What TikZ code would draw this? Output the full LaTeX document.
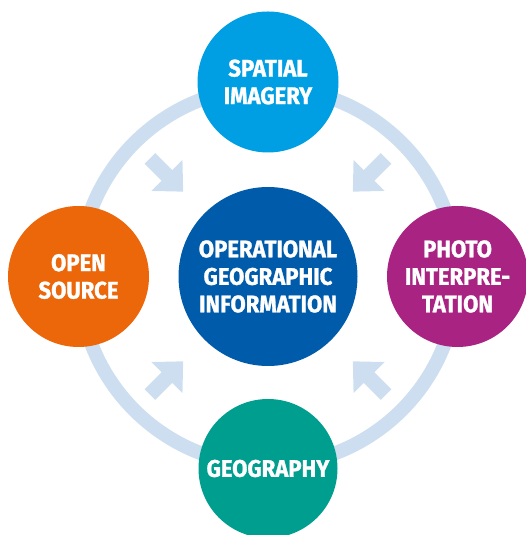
\documentclass[tikz,border=0pt]{standalone}
\usepackage{fontspec}
\setmainfont{Fira Sans}[FakeStretch=0.92, BoldFeatures={FakeBold=1.2}]
\definecolor{ringblue}{RGB}{204,222,239}
\definecolor{cyanc}{RGB}{0,159,227}
\definecolor{darkc}{RGB}{0,91,170}
\definecolor{orangec}{RGB}{236,102,10}
\definecolor{magentac}{RGB}{168,35,130}
\definecolor{tealc}{RGB}{0,158,143}
\begin{document}
\begin{tikzpicture}[x=1pt,y=1pt,
  bubble/.style={circle, inner sep=0pt, text=white, align=center,
    font=\bfseries\fontsize{24}{27.5}\selectfont},
  flowarrow/.style={fill=ringblue}]
\useasboundingbox (0,0) rectangle (525,535);
\coordinate (c) at (268,258.5);
\draw[ringblue, line width=14pt] (c) circle[radius=189];
\foreach \a in {45,135,225,315}{
  \fill[flowarrow, shift={(c)}, rotate=\a]
    (120,0) -- (143,22) -- (143,7.5) -- (167,7.5) -- (167,-7.5) -- (143,-7.5) -- (143,-22) -- cycle;
}
\node[bubble, fill=darkc, minimum size=179] (center) at (c) {OPERATIONAL\\GEOGRAPHIC\\INFORMATION};
\node[bubble, fill=cyanc, minimum size=141] (spatial) at (268,453) {SPATIAL\\IMAGERY};
\node[bubble, fill=orangec, minimum size=141] (open) at (78.5,258.5) {OPEN\\SOURCE};
\node[bubble, fill=magentac, minimum size=141] (photo) at (457.5,258.5) {PHOTO\\INTERPRE-\\TATION};
\node[bubble, fill=tealc, minimum size=139] (geo) at (268,66.5) {GEOGRAPHY};
\end{tikzpicture}
\end{document}
